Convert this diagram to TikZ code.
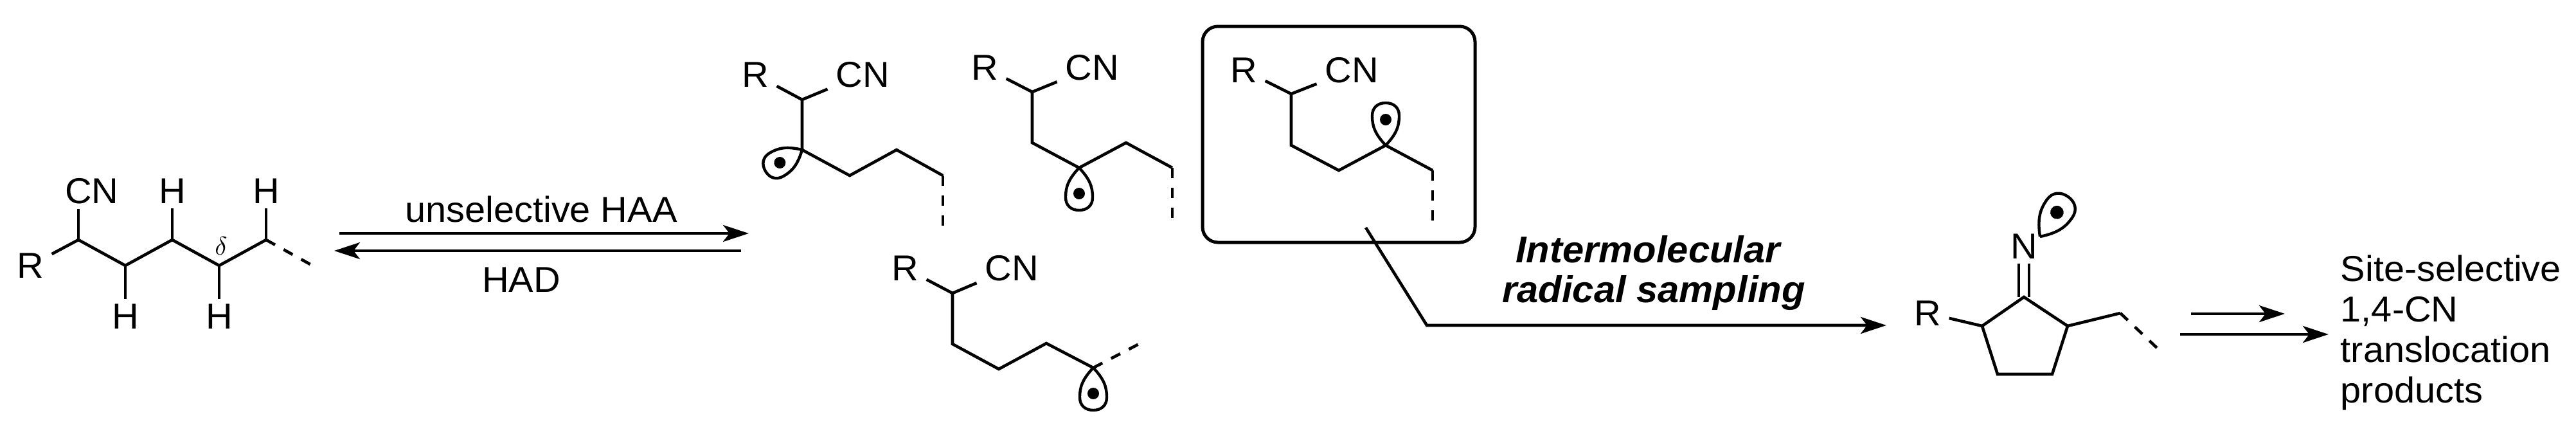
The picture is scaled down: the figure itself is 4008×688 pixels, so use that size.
\documentclass[tikz,border=0pt]{standalone}
\usepackage{fontspec}
\setmainfont[FakeStretch=1.03]{Liberation Sans}
\usetikzlibrary{arrows.meta}
\tikzset{
  atom/.style={inner xsep=3pt, inner ysep=1.75pt, font=\fontsize{14}{15}\selectfont},
  bond/.style={line width=1.15pt, line join=miter},
  dashbond/.style={bond, dash pattern=on 4pt off 3.8pt},
  rxn/.style={line width=1.15pt, -{Stealth[length=10pt, width=6.5pt, inset=2.5pt]}},
  label/.style={inner sep=0pt, font=\fontsize{14}{15}\selectfont},
  boldlabel/.style={inner sep=0pt, font=\fontsize{14.5}{15}\selectfont\bfseries\itshape},
  selbox/.style={draw, line width=1.25pt, rounded corners=6pt, minimum width=106pt, minimum height=84pt, inner sep=0pt},
  lobe/.pic={
    \draw[line width=1.1pt] (0,0) .. controls (18,17) and (30,21) .. (46,21)
      .. controls (59,21) and (66,12) .. (66,0)
      .. controls (66,-12) and (59,-21) .. (46,-21)
      .. controls (30,-21) and (18,-17) .. (0,0);
    \fill (40,0) circle (9);
  }
}

\begin{document}
\begin{tikzpicture}[x=0.25pt, y=-0.25pt]
  \useasboundingbox (0,0) rectangle (4008,688);

  % starting nitrile
  \coordinate (s1) at (122,373);
  \coordinate (s2) at (195,413);
  \coordinate (s3) at (268,373);
  \coordinate (s4) at (341,413);
  \coordinate (s5) at (414,373);
  \coordinate (s6) at (488,414);
  \node[atom] (sr) at (47,413) {R};
  \node[atom] (scn) at (143,297) {CN};
  \node[atom] (sh2) at (195,492) {H};
  \node[atom] (sh3) at (268,297) {H};
  \node[atom] (sh4) at (341,492) {H};
  \node[atom] (sh5) at (414,297) {H};
  \node[inner sep=0pt, font=\fontsize{10}{10}\selectfont] (sdelta) at (344,383) {$\delta$};
  \draw[bond] (sr) -- (s1) -- (s2) -- (s3) -- (s4) -- (s5);
  \draw[dashbond] (s5) -- (s6);
  \draw[bond] (s1) -- (s1 |- scn.south);
  \draw[bond] (s2) -- (sh2);
  \draw[bond] (s3) -- (sh3);
  \draw[bond] (s4) -- (sh4);
  \draw[bond] (s5) -- (sh5);

  % equilibrium arrows
  \coordinate (eqa) at (528,363);
  \coordinate (eqb) at (1165,363);
  \coordinate (eqc) at (1153,390);
  \coordinate (eqd) at (520,390);
  \draw[rxn] (eqa) -- (eqb);
  \draw[rxn] (eqc) -- (eqd);
  \node[label] (haa) at (842,325) {unselective HAA};
  \node[label] (had) at (811,435) {HAD};

  % radical one
  \coordinate (a1) at (1248,155);
  \coordinate (a2) at (1248,233);
  \coordinate (a3) at (1322,273);
  \coordinate (a4) at (1395,233);
  \coordinate (a5) at (1467,273);
  \coordinate (a6) at (1467,352);
  \node[atom] (ar) at (1175,116) {R};
  \node[atom] (acn) at (1342,116) {CN};
  \draw[bond] (ar) -- (a1) -- (acn);
  \draw[bond] (a1) -- (a2) -- (a3) -- (a4) -- (a5);
  \draw[dashbond] (a5) -- (a6);
  \pic[rotate=-150] at (a2) {lobe};

  % radical two
  \coordinate (b1) at (1606,143);
  \coordinate (b2) at (1606,222);
  \coordinate (b3) at (1679,261);
  \coordinate (b4) at (1752,222);
  \coordinate (b5) at (1824,261);
  \coordinate (b6) at (1824,341);
  \node[atom] (br) at (1532,105) {R};
  \node[atom] (bcn) at (1699,105) {CN};
  \draw[bond] (br) -- (b1) -- (bcn);
  \draw[bond] (b1) -- (b2) -- (b3) -- (b4) -- (b5);
  \draw[dashbond] (b5) -- (b6);
  \pic[rotate=-90] at (b3) {lobe};

  % radical three
  \coordinate (c1) at (1482,456);
  \coordinate (c2) at (1482,535);
  \coordinate (c3) at (1554,574);
  \coordinate (c4) at (1628,534);
  \coordinate (c5) at (1701,572);
  \coordinate (c6) at (1774,534);
  \node[atom] (cr) at (1408,417) {R};
  \node[atom] (ccn) at (1574,417) {CN};
  \draw[bond] (cr) -- (c1) -- (ccn);
  \draw[bond] (c1) -- (c2) -- (c3) -- (c4) -- (c5);
  \draw[dashbond] (c5) -- (c6);
  \pic[rotate=-90] at (c5) {lobe};

  % boxed radical
  \node[selbox] (box) at (2083,209) {};
  \coordinate (d1) at (2009,146);
  \coordinate (d2) at (2009,226);
  \coordinate (d3) at (2083,265);
  \coordinate (d4) at (2156,226);
  \coordinate (d5) at (2229,265);
  \coordinate (d6) at (2229,344);
  \node[atom] (dr) at (1935,109) {R};
  \node[atom] (dcn) at (2103,109) {CN};
  \draw[bond] (dr) -- (d1) -- (dcn);
  \draw[bond] (d1) -- (d2) -- (d3) -- (d4) -- (d5);
  \draw[dashbond] (d5) -- (d6);
  \pic[rotate=90] at (d4) {lobe};

  % sampling arrow
  \coordinate (sa) at (2125,354);
  \coordinate (sb) at (2220,506);
  \coordinate (sc) at (2935,506);
  \draw[rxn] (sa) -- (sb) -- (sc);
  \node[boldlabel] (inter) at (2564,388) {Intermolecular};
  \node[boldlabel] (samp) at (2573,455) {radical sampling};

  % iminyl radical
  \coordinate (p1) at (3149,462);
  \coordinate (p2) at (3084,507);
  \coordinate (p3) at (3108,582);
  \coordinate (p4) at (3193,582);
  \coordinate (p5) at (3217,507);
  \coordinate (p6) at (3299,487);
  \coordinate (p7) at (3358,543);
  \coordinate (lp) at (3174,368);
  \node[atom] (pr) at (2999,487) {R};
  \node[atom] (pn) at (3149,383) {N};
  \draw[bond] (pr) -- (p2);
  \draw[bond] (p1) -- (p2) -- (p3) -- (p4) -- (p5) -- cycle;
  \draw[bond] (p5) -- (p6);
  \draw[bond] ([xshift=-2pt]p1) -- ([xshift=-2pt]pn.south);
  \draw[bond] ([xshift=2pt]p1) -- ([xshift=2pt]pn.south);
  \draw[dashbond] (p6) -- (p7);
  \pic[rotate=55, scale=1.15] at (lp) {lobe};

  % product arrows
  \coordinate (ra) at (3409,488);
  \coordinate (rb) at (3555,488);
  \coordinate (rc) at (3392,520);
  \coordinate (rd) at (3623,520);
  \draw[rxn] (ra) -- (rb);
  \draw[rxn] (rc) -- (rd);
  \node[label, anchor=north west, align=left, font=\fontsize{14}{15.75}\selectfont] (prod) at (3641,396)
    {Site-selective\\1,4-CN\\translocation\\products};

\end{tikzpicture}
\end{document}
